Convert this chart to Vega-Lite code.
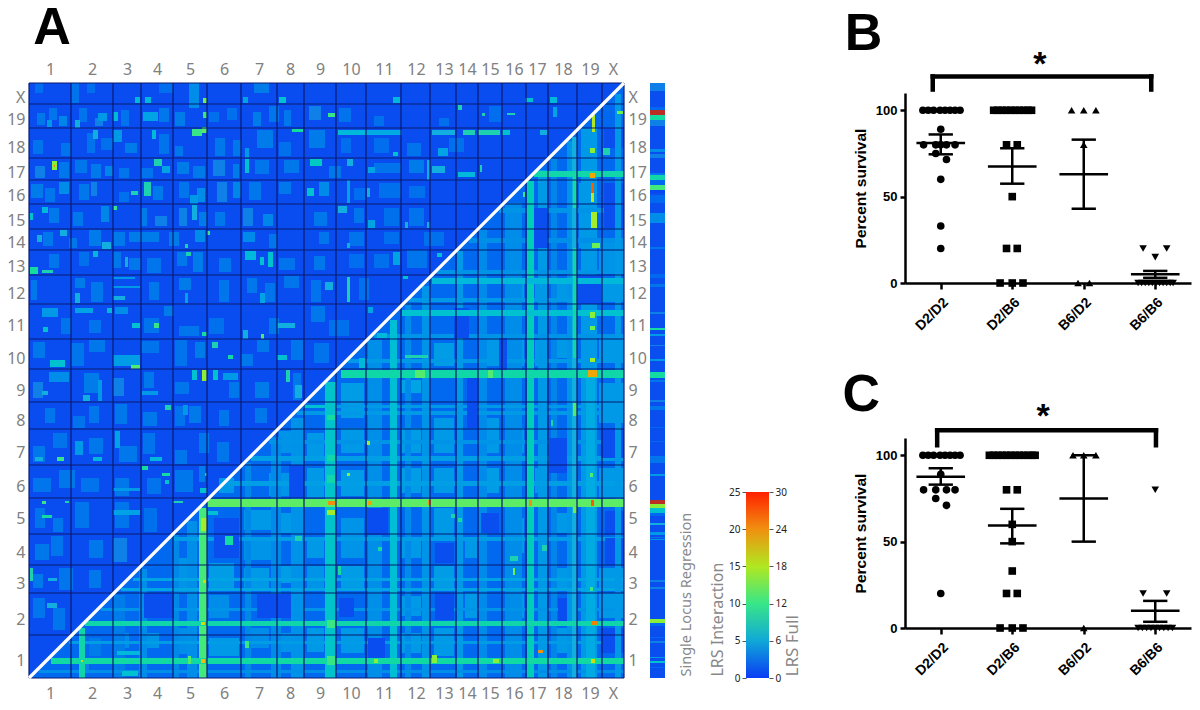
{"$schema":"https://vega.github.io/schema/vega-lite/v6.json","width":1200,"height":710,"padding":0,"autosize":{"type":"none"},"background":"white",
"config":{"axis":{"grid":false},"view":{"stroke":null}},
"datasets":{
"base":[{"x0":0,"x1":595,"y0":0,"y1":595,"v":1.9}],
"tri":[{"x":0,"y":0,"y2":0,"v":3},{"x":595,"y":595,"y2":0,"v":3}],
"diag":[{"x":0,"y":0},{"x":595,"y":595}],
"vl":[{"p":0,"lo":0,"hi":595},{"p":42,"lo":0,"hi":595},{"p":84,"lo":0,"hi":595},{"p":112,"lo":0,"hi":595},{"p":144,"lo":0,"hi":595},{"p":178,"lo":0,"hi":595},{"p":212,"lo":0,"hi":595},{"p":248,"lo":0,"hi":595},{"p":275,"lo":0,"hi":595},{"p":307,"lo":0,"hi":595},{"p":337,"lo":0,"hi":595},{"p":372,"lo":0,"hi":595},{"p":401,"lo":0,"hi":595},{"p":427,"lo":0,"hi":595},{"p":449,"lo":0,"hi":595},{"p":473,"lo":0,"hi":595},{"p":497,"lo":0,"hi":595},{"p":519,"lo":0,"hi":595},{"p":548,"lo":0,"hi":595},{"p":573,"lo":0,"hi":595},{"p":595,"lo":0,"hi":595}],
"hl":[{"p":0,"lo":0,"hi":595},{"p":43,"lo":0,"hi":595},{"p":85,"lo":0,"hi":595},{"p":113,"lo":0,"hi":595},{"p":144,"lo":0,"hi":595},{"p":180,"lo":0,"hi":595},{"p":213,"lo":0,"hi":595},{"p":249,"lo":0,"hi":595},{"p":276,"lo":0,"hi":595},{"p":309,"lo":0,"hi":595},{"p":339,"lo":0,"hi":595},{"p":374,"lo":0,"hi":595},{"p":403,"lo":0,"hi":595},{"p":428,"lo":0,"hi":595},{"p":449,"lo":0,"hi":595},{"p":474,"lo":0,"hi":595},{"p":498,"lo":0,"hi":595},{"p":520,"lo":0,"hi":595},{"p":550,"lo":0,"hi":595},{"p":574,"lo":0,"hi":595},{"p":595,"lo":0,"hi":595}],
"mott":[
{"x0":8,"x1":16,"y0":553,"y1":565,"v":3.6},{"x0":20,"x1":28,"y0":558,"y1":570,"v":3.5},{"x0":30,"x1":38,"y0":552,"y1":562,"v":4.2},{"x0":50,"x1":58,"y0":556,"y1":570,"v":3.4},{"x0":66,"x1":74,"y0":552,"y1":560,"v":4},{"x0":92,"x1":100,"y0":552,"y1":568,"v":3.4},{"x0":130,"x1":140,"y0":556,"y1":570,"v":3.6},{"x0":146,"x1":156,"y0":552,"y1":566,"v":3.8},{"x0":180,"x1":190,"y0":556,"y1":566,"v":3.3},{"x0":198,"x1":208,"y0":558,"y1":570,"v":3.3},{"x0":224,"x1":232,"y0":552,"y1":566,"v":3.8},{"x0":240,"x1":250,"y0":556,"y1":572,"v":3.5},{"x0":255,"x1":262,"y0":552,"y1":568,"v":3.6},{"x0":280,"x1":292,"y0":558,"y1":572,"v":4},{"x0":310,"x1":322,"y0":556,"y1":570,"v":3.4},{"x0":345,"x1":355,"y0":552,"y1":562,"v":3.3},{"x0":410,"x1":420,"y0":552,"y1":560,"v":3.3},{"x0":460,"x1":472,"y0":556,"y1":572,"v":3.2},
{"x0":4,"x1":14,"y0":524,"y1":538,"v":3.4},{"x0":32,"x1":42,"y0":522,"y1":535,"v":3.4},{"x0":58,"x1":66,"y0":525,"y1":545,"v":3.4},{"x0":72,"x1":84,"y0":528,"y1":540,"v":3.3},{"x0":96,"x1":108,"y0":525,"y1":535,"v":3.8},{"x0":130,"x1":140,"y0":524,"y1":544,"v":3.4},{"x0":146,"x1":154,"y0":522,"y1":532,"v":3.6},{"x0":186,"x1":196,"y0":522,"y1":540,"v":3.6},{"x0":204,"x1":212,"y0":522,"y1":538,"v":3.6},{"x0":228,"x1":244,"y0":530,"y1":548,"v":3.8},{"x0":250,"x1":262,"y0":522,"y1":536,"v":3.3},{"x0":280,"x1":296,"y0":530,"y1":548,"v":3.8},{"x0":312,"x1":322,"y0":525,"y1":540,"v":3.2},{"x0":345,"x1":360,"y0":525,"y1":540,"v":3.2},{"x0":378,"x1":392,"y0":522,"y1":535,"v":3.4},{"x0":420,"x1":435,"y0":526,"y1":540,"v":3.3},
{"x0":6,"x1":16,"y0":500,"y1":512,"v":4},{"x0":30,"x1":40,"y0":500,"y1":516,"v":3.6},{"x0":46,"x1":58,"y0":505,"y1":518,"v":3.5},{"x0":62,"x1":72,"y0":500,"y1":514,"v":3.7},{"x0":76,"x1":84,"y0":502,"y1":512,"v":4.2},{"x0":90,"x1":100,"y0":500,"y1":510,"v":3.5},{"x0":112,"x1":124,"y0":500,"y1":510,"v":3.4},{"x0":148,"x1":160,"y0":504,"y1":516,"v":3.8},{"x0":164,"x1":176,"y0":500,"y1":512,"v":3.7},{"x0":184,"x1":196,"y0":502,"y1":518,"v":4},{"x0":204,"x1":210,"y0":500,"y1":514,"v":3.8},{"x0":226,"x1":240,"y0":504,"y1":518,"v":3.5},{"x0":255,"x1":270,"y0":505,"y1":518,"v":3.6},{"x0":300,"x1":312,"y0":500,"y1":512,"v":3.6},{"x0":345,"x1":372,"y0":505,"y1":515,"v":3.4},{"x0":380,"x1":395,"y0":505,"y1":518,"v":3.8},
{"x0":2,"x1":14,"y0":480,"y1":494,"v":3.8},{"x0":16,"x1":26,"y0":476,"y1":490,"v":3.5},{"x0":30,"x1":40,"y0":484,"y1":496,"v":4.5},{"x0":50,"x1":60,"y0":478,"y1":494,"v":3.6},{"x0":62,"x1":68,"y0":482,"y1":496,"v":4},{"x0":90,"x1":100,"y0":476,"y1":486,"v":3.3},{"x0":124,"x1":134,"y0":478,"y1":492,"v":3.7},{"x0":150,"x1":160,"y0":480,"y1":496,"v":3.5},{"x0":168,"x1":176,"y0":476,"y1":490,"v":4.5},{"x0":188,"x1":198,"y0":476,"y1":496,"v":4},{"x0":204,"x1":212,"y0":480,"y1":496,"v":4.2},{"x0":220,"x1":232,"y0":478,"y1":496,"v":3.6},{"x0":250,"x1":262,"y0":484,"y1":496,"v":3.6},{"x0":290,"x1":300,"y0":482,"y1":496,"v":4.4},{"x0":325,"x1":336,"y0":478,"y1":490,"v":3.2},{"x0":350,"x1":372,"y0":480,"y1":495,"v":3.3},{"x0":380,"x1":396,"y0":480,"y1":492,"v":3.3},
{"x0":20,"x1":30,"y0":455,"y1":470,"v":3.7},{"x0":44,"x1":54,"y0":452,"y1":466,"v":3.6},{"x0":72,"x1":80,"y0":456,"y1":472,"v":4.2},{"x0":112,"x1":118,"y0":452,"y1":470,"v":3.8},{"x0":126,"x1":138,"y0":452,"y1":462,"v":4},{"x0":150,"x1":158,"y0":452,"y1":470,"v":4},{"x0":170,"x1":178,"y0":452,"y1":466,"v":3.8},{"x0":186,"x1":196,"y0":452,"y1":466,"v":3.6},{"x0":214,"x1":224,"y0":452,"y1":470,"v":4},{"x0":234,"x1":244,"y0":452,"y1":464,"v":4.2},{"x0":285,"x1":298,"y0":452,"y1":466,"v":3.6},{"x0":325,"x1":335,"y0":455,"y1":470,"v":3.5},{"x0":355,"x1":370,"y0":452,"y1":470,"v":3.3},{"x0":380,"x1":395,"y0":452,"y1":470,"v":3.4},
{"x0":14,"x1":24,"y0":432,"y1":446,"v":3.6},{"x0":40,"x1":48,"y0":430,"y1":440,"v":3.6},{"x0":60,"x1":72,"y0":432,"y1":448,"v":3.8},{"x0":84,"x1":96,"y0":432,"y1":446,"v":3.7},{"x0":100,"x1":130,"y0":436,"y1":446,"v":3.8},{"x0":140,"x1":150,"y0":432,"y1":446,"v":3.8},{"x0":166,"x1":176,"y0":436,"y1":448,"v":4.4},{"x0":214,"x1":226,"y0":436,"y1":446,"v":4.4},{"x0":240,"x1":248,"y0":430,"y1":444,"v":3.5},{"x0":290,"x1":300,"y0":434,"y1":446,"v":3.5},{"x0":320,"x1":335,"y0":432,"y1":446,"v":3.4},{"x0":355,"x1":370,"y0":434,"y1":446,"v":3.2},{"x0":395,"x1":415,"y0":432,"y1":446,"v":3.3},
{"x0":20,"x1":30,"y0":410,"y1":424,"v":3.5},{"x0":50,"x1":60,"y0":412,"y1":426,"v":3.3},{"x0":84,"x1":92,"y0":410,"y1":426,"v":3.6},{"x0":100,"x1":112,"y0":408,"y1":420,"v":3.6},{"x0":118,"x1":132,"y0":405,"y1":420,"v":3.5},{"x0":148,"x1":158,"y0":412,"y1":426,"v":3.6},{"x0":164,"x1":174,"y0":406,"y1":426,"v":3.8},{"x0":190,"x1":202,"y0":406,"y1":420,"v":3.6},{"x0":250,"x1":266,"y0":408,"y1":420,"v":3.4},{"x0":285,"x1":296,"y0":408,"y1":422,"v":3.6},{"x0":320,"x1":335,"y0":410,"y1":424,"v":3.2},{"x0":345,"x1":360,"y0":410,"y1":424,"v":3.3},{"x0":378,"x1":398,"y0":410,"y1":428,"v":3.5},
{"x0":2,"x1":8,"y0":378,"y1":398,"v":3.6},{"x0":46,"x1":56,"y0":390,"y1":400,"v":3.8},{"x0":62,"x1":74,"y0":376,"y1":396,"v":3.6},{"x0":120,"x1":130,"y0":378,"y1":396,"v":3.6},{"x0":150,"x1":162,"y0":388,"y1":400,"v":3.8},{"x0":190,"x1":200,"y0":376,"y1":398,"v":3.5},{"x0":218,"x1":228,"y0":385,"y1":400,"v":3.6},{"x0":236,"x1":246,"y0":376,"y1":395,"v":3.4},{"x0":255,"x1":270,"y0":390,"y1":402,"v":3.5},{"x0":282,"x1":292,"y0":376,"y1":398,"v":3.4},{"x0":330,"x1":340,"y0":378,"y1":400,"v":3.3},
{"x0":32,"x1":42,"y0":344,"y1":360,"v":3.4},{"x0":60,"x1":72,"y0":345,"y1":358,"v":3.4},{"x0":115,"x1":130,"y0":345,"y1":360,"v":3.4},{"x0":135,"x1":145,"y0":362,"y1":372,"v":3.8},{"x0":150,"x1":170,"y0":342,"y1":352,"v":3.5},{"x0":180,"x1":195,"y0":344,"y1":360,"v":3.3},{"x0":240,"x1":250,"y0":344,"y1":360,"v":3.6},{"x0":282,"x1":296,"y0":356,"y1":372,"v":3.6},{"x0":300,"x1":320,"y0":342,"y1":358,"v":3.3},
{"x0":4,"x1":16,"y0":320,"y1":336,"v":3.6},{"x0":42,"x1":55,"y0":312,"y1":335,"v":3.5},{"x0":60,"x1":76,"y0":326,"y1":338,"v":3.6},{"x0":112,"x1":130,"y0":325,"y1":337,"v":3.4},{"x0":146,"x1":158,"y0":312,"y1":338,"v":3.4},{"x0":166,"x1":176,"y0":320,"y1":336,"v":3.8},{"x0":212,"x1":224,"y0":312,"y1":324,"v":3.6},{"x0":228,"x1":240,"y0":326,"y1":338,"v":3.6},{"x0":262,"x1":274,"y0":318,"y1":338,"v":3.5},{"x0":285,"x1":300,"y0":315,"y1":335,"v":3.4},
{"x0":4,"x1":14,"y0":280,"y1":296,"v":4},{"x0":20,"x1":40,"y0":296,"y1":306,"v":4.5},{"x0":55,"x1":70,"y0":285,"y1":305,"v":3.8},{"x0":84,"x1":95,"y0":282,"y1":300,"v":4},{"x0":115,"x1":125,"y0":290,"y1":306,"v":3.6},{"x0":146,"x1":160,"y0":284,"y1":296,"v":3.5},{"x0":200,"x1":210,"y0":280,"y1":296,"v":3.6},{"x0":226,"x1":240,"y0":280,"y1":296,"v":3.8},{"x0":264,"x1":272,"y0":278,"y1":305,"v":3.6},
{"x0":16,"x1":26,"y0":255,"y1":270,"v":3.5},{"x0":44,"x1":56,"y0":250,"y1":262,"v":3.4},{"x0":60,"x1":70,"y0":255,"y1":272,"v":3.5},{"x0":86,"x1":98,"y0":254,"y1":274,"v":3.6},{"x0":114,"x1":128,"y0":252,"y1":266,"v":3.6},{"x0":146,"x1":156,"y0":252,"y1":272,"v":3.4},{"x0":160,"x1":172,"y0":255,"y1":272,"v":3.7},{"x0":190,"x1":200,"y0":252,"y1":268,"v":3.5},{"x0":226,"x1":238,"y0":255,"y1":270,"v":3.6},
{"x0":4,"x1":16,"y0":216,"y1":232,"v":3.6},{"x0":24,"x1":38,"y0":230,"y1":245,"v":3.4},{"x0":60,"x1":74,"y0":224,"y1":240,"v":3.6},{"x0":90,"x1":108,"y0":216,"y1":232,"v":3.6},{"x0":114,"x1":126,"y0":224,"y1":245,"v":3.4},{"x0":146,"x1":158,"y0":214,"y1":228,"v":3.5},{"x0":170,"x1":180,"y0":225,"y1":245,"v":3.6},{"x0":188,"x1":200,"y0":216,"y1":236,"v":3.5},
{"x0":4,"x1":22,"y0":186,"y1":200,"v":3.5},{"x0":30,"x1":46,"y0":190,"y1":208,"v":3.6},{"x0":52,"x1":70,"y0":186,"y1":200,"v":3.4},{"x0":86,"x1":100,"y0":182,"y1":200,"v":3.6},{"x0":118,"x1":132,"y0":184,"y1":200,"v":3.4},{"x0":146,"x1":164,"y0":186,"y1":208,"v":3.6},{"x0":170,"x1":176,"y0":196,"y1":212,"v":3.8},
{"x0":6,"x1":16,"y0":150,"y1":170,"v":3.4},{"x0":24,"x1":34,"y0":146,"y1":160,"v":3.6},{"x0":46,"x1":60,"y0":150,"y1":176,"v":3.5},{"x0":86,"x1":100,"y0":150,"y1":176,"v":3.5},{"x0":115,"x1":128,"y0":146,"y1":170,"v":3.3},{"x0":6,"x1":20,"y0":118,"y1":134,"v":3.6},{"x0":22,"x1":34,"y0":122,"y1":142,"v":3.5},{"x0":60,"x1":74,"y0":120,"y1":138,"v":3.6},{"x0":84,"x1":98,"y0":116,"y1":140,"v":4},{"x0":4,"x1":14,"y0":90,"y1":104,"v":3.7},{"x0":30,"x1":44,"y0":88,"y1":110,"v":3.5},{"x0":60,"x1":72,"y0":90,"y1":108,"v":3.6},{"x0":4,"x1":16,"y0":60,"y1":80,"v":3.5},{"x0":24,"x1":36,"y0":48,"y1":70,"v":3.5},
{"x0":50,"x1":60,"y0":5,"y1":14,"v":4},{"x0":60,"x1":72,"y0":22,"y1":40,"v":3.8},{"x0":84,"x1":100,"y0":30,"y1":45,"v":4.5},{"x0":112,"x1":130,"y0":30,"y1":45,"v":4.8},{"x0":150,"x1":165,"y0":24,"y1":50,"v":4.5},{"x0":180,"x1":200,"y0":60,"y1":83,"v":4.5},{"x0":180,"x1":210,"y0":22,"y1":40,"v":5},{"x0":220,"x1":240,"y0":30,"y1":50,"v":4.5},{"x0":250,"x1":270,"y0":26,"y1":45,"v":4.8},{"x0":278,"x1":295,"y0":26,"y1":50,"v":5},{"x0":120,"x1":140,"y0":60,"y1":85,"v":4.8},{"x0":145,"x1":168,"y0":85,"y1":120,"v":4.8},{"x0":180,"x1":205,"y0":90,"y1":115,"v":5.2},{"x0":215,"x1":240,"y0":90,"y1":110,"v":5},{"x0":250,"x1":270,"y0":95,"y1":112,"v":5.2},{"x0":278,"x1":295,"y0":90,"y1":112,"v":4.8},{"x0":185,"x1":210,"y0":130,"y1":150,"v":4.5},{"x0":215,"x1":245,"y0":118,"y1":140,"v":4.8},{"x0":250,"x1":275,"y0":145,"y1":165,"v":5},{"x0":278,"x1":295,"y0":120,"y1":140,"v":5},{"x0":215,"x1":245,"y0":148,"y1":168,"v":5},{"x0":190,"x1":205,"y0":185,"y1":200,"v":5},{"x0":240,"x1":270,"y0":182,"y1":205,"v":4.8},{"x0":278,"x1":295,"y0":180,"y1":210,"v":5},{"x0":250,"x1":270,"y0":225,"y1":247,"v":4.8},{"x0":278,"x1":295,"y0":220,"y1":245,"v":5},{"x0":312,"x1":335,"y0":25,"y1":50,"v":5},{"x0":312,"x1":335,"y0":88,"y1":112,"v":5.2},{"x0":312,"x1":335,"y0":120,"y1":160,"v":4.8},{"x0":312,"x1":335,"y0":182,"y1":208,"v":5.2},{"x0":312,"x1":335,"y0":225,"y1":250,"v":5},{"x0":312,"x1":335,"y0":260,"y1":295,"v":5.2},{"x0":372,"x1":392,"y0":25,"y1":45,"v":5},{"x0":372,"x1":392,"y0":62,"y1":82,"v":5},{"x0":372,"x1":392,"y0":120,"y1":140,"v":5},{"x0":372,"x1":392,"y0":185,"y1":210,"v":5.2},{"x0":372,"x1":392,"y0":225,"y1":250,"v":5.2},{"x0":372,"x1":392,"y0":285,"y1":298,"v":5.5},{"x0":405,"x1":425,"y0":22,"y1":50,"v":5},{"x0":405,"x1":425,"y0":90,"y1":112,"v":5.2},{"x0":405,"x1":425,"y0":140,"y1":170,"v":5},{"x0":405,"x1":425,"y0":185,"y1":210,"v":5},{"x0":405,"x1":425,"y0":225,"y1":260,"v":5},{"x0":405,"x1":425,"y0":312,"y1":335,"v":5.2},{"x0":436,"x1":448,"y0":60,"y1":85,"v":5},{"x0":436,"x1":448,"y0":120,"y1":140,"v":5},{"x0":452,"x1":470,"y0":185,"y1":210,"v":5.2},{"x0":452,"x1":470,"y0":225,"y1":260,"v":5},{"x0":452,"x1":470,"y0":312,"y1":340,"v":5},{"x0":476,"x1":495,"y0":60,"y1":85,"v":5.2},{"x0":476,"x1":495,"y0":125,"y1":160,"v":5.2},{"x0":476,"x1":495,"y0":225,"y1":250,"v":5.2},{"x0":476,"x1":495,"y0":312,"y1":340,"v":5.2},{"x0":476,"x1":495,"y0":380,"y1":400,"v":5.3},{"x0":506,"x1":518,"y0":185,"y1":210,"v":5},{"x0":506,"x1":518,"y0":312,"y1":338,"v":5.2},{"x0":506,"x1":518,"y0":380,"y1":400,"v":5},{"x0":506,"x1":518,"y0":430,"y1":470,"v":5},{"x0":522,"x1":538,"y0":25,"y1":50,"v":5},{"x0":522,"x1":538,"y0":90,"y1":110,"v":5},{"x0":522,"x1":538,"y0":145,"y1":165,"v":5},{"x0":522,"x1":538,"y0":320,"y1":340,"v":5},{"x0":522,"x1":538,"y0":380,"y1":400,"v":5},{"x0":570,"x1":595,"y0":60,"y1":85,"v":5},{"x0":570,"x1":595,"y0":90,"y1":110,"v":5},{"x0":570,"x1":595,"y0":180,"y1":210,"v":5},{"x0":570,"x1":595,"y0":255,"y1":295,"v":5},{"x0":570,"x1":595,"y0":315,"y1":340,"v":5},{"x0":570,"x1":595,"y0":380,"y1":400,"v":5},{"x0":570,"x1":595,"y0":405,"y1":440,"v":4.8},{"x0":550,"x1":560,"y0":430,"y1":495,"v":5},{"x0":550,"x1":560,"y0":380,"y1":400,"v":5}
],
"cells":[
{"x0":339,"x1":353,"y0":0,"y1":338,"v":4.6},{"x0":376,"x1":382,"y0":0,"y1":375,"v":4.4},{"x0":393,"x1":401,"y0":0,"y1":392,"v":4.8},{"x0":428,"x1":434,"y0":0,"y1":427,"v":5},{"x0":450,"x1":458,"y0":0,"y1":449,"v":4.4},{"x0":476,"x1":493,"y0":0,"y1":475,"v":4.5},{"x0":509,"x1":518,"y0":0,"y1":508,"v":5},{"x0":522,"x1":528,"y0":0,"y1":520,"v":4.2},{"x0":538,"x1":544,"y0":0,"y1":537,"v":4.8},{"x0":552,"x1":568,"y0":0,"y1":550,"v":5},
{"x0":110,"x1":118,"y0":0,"y1":109,"v":4.5},{"x0":144,"x1":150,"y0":0,"y1":143,"v":4.3},{"x0":158,"x1":168,"y0":0,"y1":157,"v":4.6},{"x0":216,"x1":222,"y0":0,"y1":215,"v":4.3},{"x0":242,"x1":252,"y0":0,"y1":241,"v":4.4},{"x0":262,"x1":275,"y0":0,"y1":260,"v":4.7},{"x0":84,"x1":96,"y0":0,"y1":83,"v":3.8},
{"x0":268,"x1":595,"y0":263,"y1":267,"v":5},{"x0":240,"x1":595,"y0":234,"y1":238,"v":4.8},{"x0":222,"x1":595,"y0":217,"y1":222,"v":5.3},{"x0":198,"x1":595,"y0":192,"y1":197,"v":5.3},{"x0":145,"x1":595,"y0":137,"y1":141,"v":5.2},{"x0":104,"x1":595,"y0":97,"y1":100,"v":5.5},{"x0":92,"x1":595,"y0":87,"y1":90,"v":5.6},{"x0":72,"x1":595,"y0":67,"y1":70,"v":4.8},{"x0":40,"x1":595,"y0":34,"y1":37,"v":5.2},{"x0":10,"x1":595,"y0":5,"y1":8,"v":4.6},{"x0":275,"x1":595,"y0":270,"y1":273,"v":5},{"x0":319,"x1":595,"y0":315,"y1":319,"v":5},{"x0":345,"x1":595,"y0":340,"y1":344,"v":4.8},{"x0":380,"x1":595,"y0":376,"y1":380,"v":5},{"x0":408,"x1":595,"y0":404,"y1":408,"v":4.8},{"x0":440,"x1":595,"y0":435,"y1":440,"v":4.6},{"x0":470,"x1":595,"y0":465,"y1":470,"v":4.8},
{"x0":338,"x1":359,"y0":143,"y1":170,"v":1.9},{"x0":438,"x1":448,"y0":250,"y1":300,"v":1.9},{"x0":339,"x1":356,"y0":20,"y1":40,"v":1.9},{"x0":529,"x1":538,"y0":57,"y1":80,"v":1.9},{"x0":576,"x1":595,"y0":143,"y1":167,"v":2},{"x0":576,"x1":595,"y0":113,"y1":140,"v":2},{"x0":310,"x1":325,"y0":61,"y1":80,"v":2},{"x0":406,"x1":425,"y0":115,"y1":135,"v":2},{"x0":452,"x1":470,"y0":145,"y1":165,"v":2},{"x0":520,"x1":538,"y0":205,"y1":240,"v":2},{"x0":572,"x1":595,"y0":220,"y1":250,"v":2},{"x0":572,"x1":595,"y0":25,"y1":50,"v":2},{"x0":406,"x1":425,"y0":58,"y1":85,"v":2},{"x0":228,"x1":262,"y0":60,"y1":84,"v":2},{"x0":115,"x1":145,"y0":60,"y1":85,"v":2},{"x0":185,"x1":210,"y0":120,"y1":160,"v":2},{"x0":260,"x1":275,"y0":180,"y1":213,"v":2},{"x0":470,"x1":478,"y0":305,"y1":340,"v":2},{"x0":425,"x1":440,"y0":340,"y1":370,"v":2},{"x0":545,"x1":572,"y0":374,"y1":403,"v":2},{"x0":505,"x1":518,"y0":430,"y1":470,"v":2},{"x0":575,"x1":595,"y0":450,"y1":495,"v":2},{"x0":575,"x1":595,"y0":530,"y1":550,"v":2},
{"x0":361,"x1":368,"y0":0,"y1":358,"v":6.8},{"x0":296,"x1":307,"y0":0,"y1":296,"v":7.2},{"x0":498,"x1":505,"y0":0,"y1":497,"v":7.8},{"x0":543,"x1":548,"y0":0,"y1":541,"v":6},{"x0":586,"x1":592,"y0":0,"y1":584,"v":5},{"x0":557,"x1":566,"y0":0,"y1":300,"v":5.8},
{"x0":373,"x1":595,"y0":362,"y1":368,"v":7},{"x0":403,"x1":595,"y0":394,"y1":400,"v":6.5},{"x0":505,"x1":595,"y0":501,"y1":507,"v":8.5},{"x0":312,"x1":595,"y0":300,"y1":308,"v":8.6},
{"x0":170,"x1":178,"y0":0,"y1":170,"v":10.5},{"x0":50,"x1":56,"y0":0,"y1":50,"v":8.4},{"x0":178,"x1":595,"y0":171,"y1":179,"v":11.4},{"x0":56,"x1":595,"y0":52,"y1":57,"v":8.4},{"x0":22,"x1":595,"y0":14,"y1":20,"v":8.8},
{"x0":544,"x1":548,"y0":262,"y1":275,"v":11},{"x0":544,"x1":548,"y0":165,"y1":171,"v":12},{"x0":544,"x1":548,"y0":320,"y1":430,"v":8.6},{"x0":544,"x1":548,"y0":470,"y1":505,"v":9},
{"x0":563,"x1":566,"y0":546,"y1":563,"v":14.5},{"x0":561,"x1":566,"y0":525,"y1":530,"v":13},{"x0":574,"x1":581,"y0":523,"y1":530,"v":8},{"x0":588,"x1":594,"y0":564,"y1":567,"v":12},{"x0":561,"x1":566,"y0":500,"y1":505,"v":19},{"x0":562,"x1":565,"y0":485,"y1":495,"v":23},{"x0":562,"x1":565,"y0":476,"y1":485,"v":15},{"x0":562,"x1":568,"y0":450,"y1":466,"v":14},{"x0":563,"x1":571,"y0":430,"y1":435,"v":12},{"x0":559,"x1":568,"y0":301,"y1":308,"v":19},{"x0":561,"x1":566,"y0":316,"y1":320,"v":14},{"x0":561,"x1":566,"y0":348,"y1":352,"v":12},{"x0":561,"x1":566,"y0":360,"y1":366,"v":13},
{"x0":386,"x1":396,"y0":300,"y1":308,"v":11},{"x0":459,"x1":464,"y0":300,"y1":308,"v":11},{"x0":376,"x1":399,"y0":320,"y1":323,"v":8},{"x0":348,"x1":358,"y0":340,"y1":345,"v":6.5},{"x0":330,"x1":336,"y0":310,"y1":320,"v":6.5},
{"x0":299,"x1":306,"y0":173,"y1":177,"v":20},{"x0":339,"x1":343,"y0":173,"y1":177,"v":19},{"x0":399,"x1":402,"y0":173,"y1":178,"v":20},{"x0":500,"x1":503,"y0":172,"y1":178,"v":20},{"x0":562,"x1":565,"y0":172,"y1":178,"v":23},{"x0":298,"x1":306,"y0":163,"y1":168,"v":14},{"x0":562,"x1":568,"y0":53,"y1":57,"v":21},{"x0":403,"x1":408,"y0":15,"y1":23,"v":13},{"x0":509,"x1":514,"y0":25,"y1":28,"v":20},{"x0":345,"x1":349,"y0":15,"y1":19,"v":13},{"x0":464,"x1":470,"y0":15,"y1":19,"v":13},{"x0":562,"x1":566,"y0":15,"y1":19,"v":16},{"x0":338,"x1":341,"y0":233,"y1":237,"v":14},{"x0":318,"x1":321,"y0":202,"y1":205,"v":13},{"x0":429,"x1":433,"y0":156,"y1":160,"v":9},{"x0":422,"x1":426,"y0":160,"y1":164,"v":8},{"x0":484,"x1":486,"y0":103,"y1":110,"v":12},{"x0":481,"x1":489,"y0":117,"y1":122,"v":8},{"x0":561,"x1":564,"y0":201,"y1":205,"v":11},{"x0":561,"x1":564,"y0":87,"y1":91,"v":10},{"x0":522,"x1":524,"y0":252,"y1":258,"v":9},{"x0":309,"x1":312,"y0":103,"y1":112,"v":9},{"x0":349,"x1":353,"y0":127,"y1":131,"v":9},{"x0":513,"x1":518,"y0":127,"y1":133,"v":8},{"x0":298,"x1":306,"y0":258,"y1":263,"v":9},{"x0":298,"x1":306,"y0":217,"y1":223,"v":8.5},{"x0":298,"x1":306,"y0":195,"y1":203,"v":8.5},{"x0":298,"x1":306,"y0":50,"y1":58,"v":10},{"x0":298,"x1":306,"y0":13,"y1":22,"v":10},
{"x0":196,"x1":204,"y0":133,"y1":142,"v":9},{"x0":266,"x1":273,"y0":137,"y1":142,"v":8},{"x0":216,"x1":220,"y0":30,"y1":37,"v":10},{"x0":179,"x1":189,"y0":163,"y1":167,"v":7},{"x0":274,"x1":296,"y0":270,"y1":273,"v":7},{"x0":93,"x1":109,"y0":2,"y1":7,"v":7},{"x0":88,"x1":111,"y0":23,"y1":27,"v":6.5},{"x0":159,"x1":162,"y0":14,"y1":22,"v":11},{"x0":52,"x1":54,"y0":16,"y1":18,"v":17},{"x0":172,"x1":176,"y0":15,"y1":19,"v":18},{"x0":172,"x1":176,"y0":53,"y1":56,"v":16},{"x0":174,"x1":177,"y0":95,"y1":98,"v":16},{"x0":172,"x1":178,"y0":147,"y1":160,"v":14},
{"x0":23,"x1":28,"y0":508,"y1":517,"v":13},{"x0":25,"x1":26,"y0":511,"y1":513,"v":21},{"x0":125,"x1":133,"y0":512,"y1":519,"v":8},{"x0":133,"x1":141,"y0":505,"y1":512,"v":5.5},{"x0":281,"x1":293,"y0":512,"y1":519,"v":7.5},{"x0":163,"x1":173,"y0":542,"y1":549,"v":10},{"x0":173,"x1":178,"y0":545,"y1":551,"v":11},{"x0":174,"x1":178,"y0":575,"y1":580,"v":12},{"x0":174,"x1":178,"y0":560,"y1":566,"v":10},{"x0":116,"x1":122,"y0":575,"y1":581,"v":6.5},{"x0":106,"x1":111,"y0":575,"y1":581,"v":6.5},{"x0":250,"x1":257,"y0":575,"y1":581,"v":7},{"x0":214,"x1":219,"y0":575,"y1":581,"v":5.5},{"x0":64,"x1":69,"y0":539,"y1":548,"v":6},{"x0":84,"x1":93,"y0":536,"y1":548,"v":5},{"x0":263,"x1":274,"y0":546,"y1":549,"v":9},{"x0":123,"x1":127,"y0":539,"y1":548,"v":6.5},{"x0":115,"x1":122,"y0":482,"y1":496,"v":8},{"x0":102,"x1":109,"y0":483,"y1":487,"v":8},{"x0":278,"x1":285,"y0":482,"y1":490,"v":7},{"x0":1,"x1":9,"y0":404,"y1":411,"v":9},{"x0":13,"x1":24,"y0":405,"y1":408,"v":8},{"x0":216,"x1":227,"y0":418,"y1":427,"v":6.5},{"x0":231,"x1":235,"y0":413,"y1":421,"v":7},{"x0":239,"x1":244,"y0":411,"y1":426,"v":7},{"x0":216,"x1":220,"y0":505,"y1":519,"v":7},{"x0":216,"x1":220,"y0":520,"y1":530,"v":5},{"x0":84,"x1":88,"y0":468,"y1":472,"v":10},{"x0":13,"x1":19,"y0":465,"y1":471,"v":6.5},{"x0":1,"x1":4,"y0":458,"y1":465,"v":7},{"x0":163,"x1":168,"y0":458,"y1":473,"v":6},{"x0":161,"x1":169,"y0":474,"y1":483,"v":5},{"x0":156,"x1":159,"y0":430,"y1":434,"v":8},{"x0":157,"x1":162,"y0":422,"y1":426,"v":8},{"x0":178,"x1":181,"y0":443,"y1":447,"v":10},{"x0":73,"x1":82,"y0":429,"y1":436,"v":6},{"x0":64,"x1":69,"y0":421,"y1":427,"v":6.5},{"x0":96,"x1":99,"y0":411,"y1":421,"v":6},{"x0":8,"x1":13,"y0":436,"y1":443,"v":6},{"x0":31,"x1":38,"y0":442,"y1":448,"v":6},{"x0":84,"x1":106,"y0":399,"y1":401,"v":5},{"x0":84,"x1":111,"y0":390,"y1":392,"v":5},{"x0":84,"x1":96,"y0":378,"y1":382,"v":6},{"x0":46,"x1":51,"y0":375,"y1":385,"v":6},{"x0":156,"x1":159,"y0":375,"y1":385,"v":5.5},{"x0":231,"x1":236,"y0":375,"y1":385,"v":5.5},{"x0":103,"x1":111,"y0":350,"y1":355,"v":7},{"x0":125,"x1":130,"y0":350,"y1":355,"v":10},{"x0":232,"x1":235,"y0":339,"y1":344,"v":11},{"x0":14,"x1":19,"y0":346,"y1":351,"v":7},{"x0":13,"x1":29,"y0":361,"y1":370,"v":5},{"x0":46,"x1":64,"y0":365,"y1":370,"v":5.5},{"x0":78,"x1":83,"y0":365,"y1":370,"v":6.5},{"x0":86,"x1":99,"y0":364,"y1":371,"v":4.5},{"x0":84,"x1":111,"y0":312,"y1":323,"v":5.2},{"x0":21,"x1":36,"y0":311,"y1":318,"v":7},{"x0":102,"x1":111,"y0":309,"y1":313,"v":11},{"x0":199,"x1":204,"y0":319,"y1":323,"v":9},{"x0":183,"x1":189,"y0":330,"y1":336,"v":8},{"x0":163,"x1":168,"y0":298,"y1":308,"v":7},{"x0":173,"x1":178,"y0":297,"y1":308,"v":13},{"x0":184,"x1":189,"y0":298,"y1":308,"v":7},{"x0":194,"x1":209,"y0":298,"y1":305,"v":5},{"x0":257,"x1":261,"y0":296,"y1":308,"v":8},{"x0":248,"x1":258,"y0":318,"y1":323,"v":7},{"x0":248,"x1":266,"y0":350,"y1":355,"v":6},{"x0":214,"x1":219,"y0":339,"y1":348,"v":6},{"x0":173,"x1":178,"y0":342,"y1":346,"v":9},{"x0":46,"x1":51,"y0":550,"y1":558,"v":6},{"x0":18,"x1":23,"y0":551,"y1":558,"v":5},{"x0":114,"x1":129,"y0":557,"y1":566,"v":5.5},{"x0":84,"x1":89,"y0":557,"y1":566,"v":6.5},{"x0":69,"x1":78,"y0":557,"y1":565,"v":5},
{"x0":6,"x1":14,"y0":585,"y1":595,"v":3.2},{"x0":42,"x1":50,"y0":575,"y1":595,"v":3.4},{"x0":58,"x1":66,"y0":585,"y1":595,"v":3.2},{"x0":130,"x1":144,"y0":585,"y1":595,"v":3.2},{"x0":160,"x1":170,"y0":570,"y1":595,"v":4.5},{"x0":225,"x1":240,"y0":585,"y1":595,"v":3.8},
{"x0":18,"x1":28,"y0":70,"y1":75,"v":6},{"x0":1,"x1":4,"y0":97,"y1":110,"v":8},{"x0":19,"x1":28,"y0":97,"y1":100,"v":6},{"x0":13,"x1":23,"y0":160,"y1":163,"v":9},{"x0":13,"x1":17,"y0":174,"y1":177,"v":10},{"x0":36,"x1":40,"y0":175,"y1":177,"v":8},{"x0":144,"x1":154,"y0":175,"y1":177,"v":8},{"x0":84,"x1":111,"y0":163,"y1":168,"v":5.4},{"x0":84,"x1":111,"y0":187,"y1":190,"v":5},{"x0":28,"x1":35,"y0":217,"y1":221,"v":10},{"x0":64,"x1":73,"y0":217,"y1":221,"v":6.5},{"x0":121,"x1":133,"y0":217,"y1":221,"v":6.5},{"x0":6,"x1":14,"y0":217,"y1":221,"v":6},{"x0":133,"x1":141,"y0":202,"y1":205,"v":9},{"x0":113,"x1":119,"y0":208,"y1":212,"v":9},{"x0":136,"x1":140,"y0":194,"y1":198,"v":7},{"x0":86,"x1":91,"y0":230,"y1":247,"v":5.5},{"x0":46,"x1":54,"y0":223,"y1":237,"v":5},{"x0":13,"x1":19,"y0":283,"y1":287,"v":6},{"x0":54,"x1":61,"y0":277,"y1":283,"v":6},{"x0":69,"x1":73,"y0":277,"y1":298,"v":5},{"x0":136,"x1":142,"y0":268,"y1":273,"v":8},{"x0":154,"x1":159,"y0":263,"y1":273,"v":5},{"x0":113,"x1":129,"y0":283,"y1":287,"v":5},{"x0":266,"x1":273,"y0":280,"y1":293,"v":6},{"x0":176,"x1":178,"y0":202,"y1":205,"v":8},{"x0":171,"x1":178,"y0":185,"y1":190,"v":7},
{"x0":364,"x1":371,"y0":575,"y1":581,"v":6.5},{"x0":299,"x1":306,"y0":561,"y1":565,"v":10},{"x0":429,"x1":433,"y0":568,"y1":573,"v":8},{"x0":453,"x1":456,"y0":562,"y1":565,"v":8},{"x0":478,"x1":486,"y0":563,"y1":565,"v":8},{"x0":496,"x1":504,"y0":576,"y1":580,"v":7},{"x0":521,"x1":528,"y0":575,"y1":581,"v":6.5},{"x0":524,"x1":528,"y0":561,"y1":571,"v":5.5},{"x0":309,"x1":336,"y0":543,"y1":548,"v":6.5},{"x0":336,"x1":373,"y0":543,"y1":548,"v":5.8},{"x0":403,"x1":426,"y0":543,"y1":548,"v":6},{"x0":434,"x1":446,"y0":543,"y1":548,"v":8},{"x0":449,"x1":471,"y0":543,"y1":548,"v":8},{"x0":473,"x1":481,"y0":543,"y1":548,"v":7},{"x0":511,"x1":518,"y0":543,"y1":548,"v":6},{"x0":364,"x1":369,"y0":522,"y1":526,"v":7},{"x0":409,"x1":419,"y0":522,"y1":530,"v":5.5},{"x0":318,"x1":324,"y0":512,"y1":519,"v":6},{"x0":339,"x1":346,"y0":505,"y1":511,"v":5.5},{"x0":403,"x1":416,"y0":505,"y1":512,"v":6},{"x0":398,"x1":401,"y0":498,"y1":518,"v":6},{"x0":429,"x1":446,"y0":501,"y1":506,"v":6.5},{"x0":451,"x1":453,"y0":506,"y1":513,"v":8},{"x0":494,"x1":496,"y0":481,"y1":486,"v":10},{"x0":318,"x1":321,"y0":475,"y1":498,"v":5.5},{"x0":338,"x1":341,"y0":481,"y1":490,"v":6},{"x0":309,"x1":318,"y0":465,"y1":472,"v":6},{"x0":339,"x1":346,"y0":450,"y1":458,"v":5.5},{"x0":376,"x1":379,"y0":450,"y1":456,"v":6},{"x0":398,"x1":401,"y0":450,"y1":456,"v":6},{"x0":318,"x1":321,"y0":430,"y1":435,"v":6},{"x0":364,"x1":371,"y0":413,"y1":426,"v":5.5},{"x0":408,"x1":413,"y0":421,"y1":425,"v":7},{"x0":318,"x1":321,"y0":376,"y1":401,"v":8},{"x0":296,"x1":304,"y0":388,"y1":396,"v":6},{"x0":374,"x1":379,"y0":399,"y1":402,"v":7},{"x0":339,"x1":344,"y0":365,"y1":371,"v":5.5}
],
"strip":[{"y0":0,"y1":595,"v":2},{"y0":587,"y1":595,"v":4},{"y0":568,"y1":571,"v":3},{"y0":563,"y1":568,"v":29},{"y0":558,"y1":563,"v":9},{"y0":552,"y1":558,"v":4},{"y0":526,"y1":529,"v":4.5},{"y0":520,"y1":524,"v":4},{"y0":503,"y1":505,"v":3.5},{"y0":498,"y1":503,"v":8.5},{"y0":493,"y1":498,"v":3},{"y0":488,"y1":493,"v":10.5},{"y0":485,"y1":488,"v":1.2},{"y0":475,"y1":483,"v":3},{"y0":455,"y1":465,"v":4.5},{"y0":429,"y1":431,"v":3.5},{"y0":400,"y1":404,"v":3},{"y0":391,"y1":394,"v":3.5},{"y0":364,"y1":366,"v":4},{"y0":348,"y1":350,"v":9},{"y0":342,"y1":344,"v":5},{"y0":332,"y1":333,"v":4},{"y0":317,"y1":319,"v":5},{"y0":300,"y1":306,"v":9},{"y0":296,"y1":298,"v":3.5},{"y0":276,"y1":278,"v":4},{"y0":268,"y1":272,"v":3.5},{"y0":250,"y1":251,"v":3},{"y0":236,"y1":237,"v":3},{"y0":215,"y1":222,"v":3.5},{"y0":202,"y1":204,"v":5},{"y0":174,"y1":178,"v":29},{"y0":170,"y1":174,"v":13},{"y0":165,"y1":170,"v":7},{"y0":162,"y1":165,"v":3},{"y0":153,"y1":155,"v":6},{"y0":143,"y1":146,"v":5},{"y0":140,"y1":141,"v":3.5},{"y0":138,"y1":139,"v":5},{"y0":96,"y1":98,"v":4},{"y0":89,"y1":91,"v":4},{"y0":55,"y1":59,"v":13},{"y0":52,"y1":55,"v":3},{"y0":40,"y1":41,"v":3},{"y0":35,"y1":37,"v":4},{"y0":20,"y1":21,"v":5},{"y0":15,"y1":17,"v":7},{"y0":10,"y1":11,"v":3}],
"cbarRect":[{"x0":0,"x1":1,"y0":0,"y1":25}],
"cbarText":[{"x":-2.56,"y":0.2,"t":"Single Locus Regression","s":14.5},{"x":-1.22,"y":0.2,"t":"LRS Interaction","s":16},{"x":2.04,"y":0.2,"t":"LRS Full","s":17}],
"ptsB":[{"g":"D2/D2","x":0.75,"y":100},{"g":"D2/D2","x":0.825,"y":100},{"g":"D2/D2","x":0.9,"y":100},{"g":"D2/D2","x":0.99,"y":100},{"g":"D2/D2","x":1.06,"y":100},{"g":"D2/D2","x":1.13,"y":100},{"g":"D2/D2","x":1.2,"y":100},{"g":"D2/D2","x":1.27,"y":100},{"g":"D2/D2","x":1,"y":89},{"g":"D2/D2","x":0.76,"y":80},{"g":"D2/D2","x":0.93,"y":80},{"g":"D2/D2","x":1,"y":80},{"g":"D2/D2","x":1.08,"y":80},{"g":"D2/D2","x":1.2,"y":80},{"g":"D2/D2","x":0.93,"y":75},{"g":"D2/D2","x":1.08,"y":71.5},{"g":"D2/D2","x":1,"y":60},{"g":"D2/D2","x":1,"y":33},{"g":"D2/D2","x":1,"y":20},
{"g":"D2/B6","x":1.74,"y":100},{"g":"D2/B6","x":1.8,"y":100},{"g":"D2/B6","x":1.86,"y":100},{"g":"D2/B6","x":1.92,"y":100},{"g":"D2/B6","x":1.98,"y":100},{"g":"D2/B6","x":2.04,"y":100},{"g":"D2/B6","x":2.1,"y":100},{"g":"D2/B6","x":2.16,"y":100},{"g":"D2/B6","x":2.22,"y":100},{"g":"D2/B6","x":2.27,"y":100},{"g":"D2/B6","x":1.92,"y":80},{"g":"D2/B6","x":2.07,"y":80},{"g":"D2/B6","x":2,"y":50},{"g":"D2/B6","x":1.92,"y":20},{"g":"D2/B6","x":2.07,"y":20},{"g":"D2/B6","x":1.83,"y":0},{"g":"D2/B6","x":2,"y":0},{"g":"D2/B6","x":2.15,"y":0},
{"g":"B6/D2","x":2.83,"y":100},{"g":"B6/D2","x":3,"y":100},{"g":"B6/D2","x":3.17,"y":100},{"g":"B6/D2","x":3,"y":80},{"g":"B6/D2","x":2.92,"y":0},{"g":"B6/D2","x":3.08,"y":0},
{"g":"B6/B6","x":3.83,"y":20},{"g":"B6/B6","x":4.16,"y":20},{"g":"B6/B6","x":4,"y":15},{"g":"B6/B6","x":3.76,"y":0},{"g":"B6/B6","x":3.81,"y":0},{"g":"B6/B6","x":3.86,"y":0},{"g":"B6/B6","x":3.91,"y":0},{"g":"B6/B6","x":3.96,"y":0},{"g":"B6/B6","x":4.01,"y":0},{"g":"B6/B6","x":4.06,"y":0},{"g":"B6/B6","x":4.11,"y":0},{"g":"B6/B6","x":4.16,"y":0},{"g":"B6/B6","x":4.21,"y":0},{"g":"B6/B6","x":4.25,"y":0}],
"segB":[{"x":0.66,"x2":1.34,"y":81,"y2":81},{"x":0.83,"x2":1.17,"y":86,"y2":86},{"x":0.83,"x2":1.17,"y":74.5,"y2":74.5},{"x":1,"x2":1,"y":74.5,"y2":86},{"x":1.66,"x2":2.34,"y":67.5,"y2":67.5},{"x":1.83,"x2":2.17,"y":78,"y2":78},{"x":1.83,"x2":2.17,"y":57.5,"y2":57.5},{"x":2,"x2":2,"y":57.5,"y2":78},{"x":2.66,"x2":3.34,"y":63,"y2":63},{"x":2.83,"x2":3.17,"y":83,"y2":83},{"x":2.83,"x2":3.17,"y":43,"y2":43},{"x":3,"x2":3,"y":43,"y2":83},{"x":3.66,"x2":4.34,"y":5,"y2":5},{"x":3.83,"x2":4.17,"y":7,"y2":7},{"x":3.83,"x2":4.17,"y":3,"y2":3},{"x":4,"x2":4,"y":3,"y2":7}],
"brB":[{"x":0.888,"x2":3.944,"y":119.6,"y2":119.6},{"x":0.888,"x2":0.888,"y":112,"y2":119.6},{"x":3.944,"x2":3.944,"y":112,"y2":119.6}],
"txtB":[{"x":2.385,"y":126.5,"t":"*","s":34},{"x":-0.08,"y":144,"t":"B","s":52}],
"ptsC":[{"g":"D2/D2","x":0.75,"y":100},{"g":"D2/D2","x":0.825,"y":100},{"g":"D2/D2","x":0.9,"y":100},{"g":"D2/D2","x":0.99,"y":100},{"g":"D2/D2","x":1.06,"y":100},{"g":"D2/D2","x":1.13,"y":100},{"g":"D2/D2","x":1.2,"y":100},{"g":"D2/D2","x":1.27,"y":100},{"g":"D2/D2","x":1,"y":89},{"g":"D2/D2","x":0.76,"y":80},{"g":"D2/D2","x":0.93,"y":80},{"g":"D2/D2","x":1.08,"y":80},{"g":"D2/D2","x":1.2,"y":80},{"g":"D2/D2","x":0.93,"y":75},{"g":"D2/D2","x":1.08,"y":71},{"g":"D2/D2","x":1,"y":20},
{"g":"D2/B6","x":1.68,"y":100},{"g":"D2/B6","x":1.74,"y":100},{"g":"D2/B6","x":1.8,"y":100},{"g":"D2/B6","x":1.86,"y":100},{"g":"D2/B6","x":1.92,"y":100},{"g":"D2/B6","x":1.98,"y":100},{"g":"D2/B6","x":2.04,"y":100},{"g":"D2/B6","x":2.1,"y":100},{"g":"D2/B6","x":2.16,"y":100},{"g":"D2/B6","x":2.22,"y":100},{"g":"D2/B6","x":2.28,"y":100},{"g":"D2/B6","x":2.32,"y":100},{"g":"D2/B6","x":1.92,"y":80},{"g":"D2/B6","x":2.07,"y":80},{"g":"D2/B6","x":2,"y":60},{"g":"D2/B6","x":2,"y":50},{"g":"D2/B6","x":2,"y":33},{"g":"D2/B6","x":1.92,"y":20},{"g":"D2/B6","x":2.07,"y":20},{"g":"D2/B6","x":1.83,"y":0},{"g":"D2/B6","x":2,"y":0},{"g":"D2/B6","x":2.15,"y":0},
{"g":"B6/D2","x":2.85,"y":100},{"g":"B6/D2","x":3,"y":100},{"g":"B6/D2","x":3.17,"y":100},{"g":"B6/D2","x":3,"y":0},
{"g":"B6/B6","x":4,"y":80},{"g":"B6/B6","x":3.83,"y":20},{"g":"B6/B6","x":4.16,"y":20},{"g":"B6/B6","x":3.76,"y":0},{"g":"B6/B6","x":3.82,"y":0},{"g":"B6/B6","x":3.88,"y":0},{"g":"B6/B6","x":3.94,"y":0},{"g":"B6/B6","x":4,"y":0},{"g":"B6/B6","x":4.06,"y":0},{"g":"B6/B6","x":4.12,"y":0},{"g":"B6/B6","x":4.18,"y":0},{"g":"B6/B6","x":4.24,"y":0}],
"segC":[{"x":0.66,"x2":1.34,"y":87.5,"y2":87.5},{"x":0.83,"x2":1.17,"y":92.5,"y2":92.5},{"x":0.83,"x2":1.17,"y":83,"y2":83},{"x":1,"x2":1,"y":83,"y2":92.5},{"x":1.66,"x2":2.34,"y":59.3,"y2":59.3},{"x":1.83,"x2":2.17,"y":69,"y2":69},{"x":1.83,"x2":2.17,"y":49,"y2":49},{"x":2,"x2":2,"y":49,"y2":69},{"x":2.66,"x2":3.34,"y":75,"y2":75},{"x":2.83,"x2":3.17,"y":100,"y2":100},{"x":2.83,"x2":3.17,"y":50,"y2":50},{"x":3,"x2":3,"y":50,"y2":100},{"x":3.66,"x2":4.34,"y":10,"y2":10},{"x":3.83,"x2":4.17,"y":15.7,"y2":15.7},{"x":3.83,"x2":4.17,"y":3.6,"y2":3.6},{"x":4,"x2":4,"y":3.6,"y2":15.7}],
"brC":[{"x":0.95,"x2":4.01,"y":114.5,"y2":114.5},{"x":0.95,"x2":0.95,"y":105.8,"y2":114.5},{"x":4.01,"x2":4.01,"y":105.8,"y2":114.5}],
"txtC":[{"x":2.43,"y":122,"t":"*","s":34},{"x":-0.11,"y":135,"t":"C","s":52}],
"txtA":[{"x":23,"y":650,"t":"A"}]
},
"resolve":{"scale":{"x":"independent","y":"independent"}},
"layer":[
{"resolve":{"axis":{"x":"independent","y":"independent"}},"layer":[
{"data":{"name":"base"},"mark":{"type":"rect"},"encoding":{
"x":{"field":"x0","type":"quantitative","scale":{"domain":[0,595],"range":[29,624],"nice":false,"zero":false},"axis":{"orient":"bottom","offset":-32,"title":null,"domain":false,"ticks":false,"labelPadding":7,"labelFont":"Noto Sans","labelFontSize":16,"labelColor":"#808080","labelOverlap":false,"labelFlush":false,"values":[21,63,98,128,161,195,230,261,291,322,355,387,415,438,461,485,508,534,561,584],"labelExpr":"['1','2','3','4','5','6','7','8','9','10','11','12','13','14','15','16','17','18','19','X'][indexof([21,63,98,128,161,195,230,261,291,322,355,387,415,438,461,485,508,534,561,584],datum.value)]"}},
"x2":{"field":"x1"},
"y":{"field":"y0","type":"quantitative","scale":{"domain":[0,595],"range":[678,83],"nice":false,"zero":false},"axis":{"orient":"left","offset":-29,"title":null,"domain":false,"ticks":false,"labelPadding":4,"labelFont":"Noto Sans","labelFontSize":16,"labelColor":"#808080","labelOverlap":false,"labelFlush":false,"values":[18,59,95,126,160,192,226,258,288,320,353,385,412,436,458,483,506,531,559,581],"labelExpr":"['1','2','3','4','5','6','7','8','9','10','11','12','13','14','15','16','17','18','19','X'][indexof([18,59,95,126,160,192,226,258,288,320,353,385,412,436,458,483,506,531,559,581],datum.value)]"}},
"y2":{"field":"y1"},
"color":{"field":"v","type":"quantitative","legend":null,"scale":{"domain":[0,2,4,6,8,10,12.5,15,17.5,20,25,30],"range":["#0a3cf5","#0a4ef0","#0f80e8","#12aee0","#1cd0b0","#38e688","#7cf040","#b8e820","#e8c818","#f09010","#ff2000","#a83028"]}}}},
{"data":{"name":"tri"},"mark":{"type":"area","interpolate":"linear"},"encoding":{"x":{"field":"x","type":"quantitative","axis":null},"y":{"field":"y","type":"quantitative","axis":null,"stack":null},"y2":{"field":"y2"},"color":{"field":"v","type":"quantitative","legend":null}}},
{"data":{"name":"mott"},"mark":{"type":"rect"},"encoding":{"x":{"field":"x0","type":"quantitative","axis":null},"x2":{"field":"x1"},"y":{"field":"y0","type":"quantitative","axis":null},"y2":{"field":"y1"},"color":{"field":"v","type":"quantitative","legend":null}}},
{"data":{"name":"cells"},"mark":{"type":"rect"},"encoding":{"x":{"field":"x0","type":"quantitative","axis":null},"x2":{"field":"x1"},"y":{"field":"y0","type":"quantitative","axis":null},"y2":{"field":"y1"},"color":{"field":"v","type":"quantitative","legend":null}}},
{"data":{"name":"vl"},"mark":{"type":"rule","color":"#0a1a6e","strokeWidth":1.2},"encoding":{
"x":{"field":"p","type":"quantitative","axis":{"orient":"top","offset":-83,"title":null,"domain":false,"ticks":false,"labelPadding":6,"labelFont":"Noto Sans","labelFontSize":16,"labelColor":"#808080","labelOverlap":false,"labelFlush":false,"values":[21,63,98,128,161,195,230,261,291,322,355,387,415,438,461,485,508,534,561,584],"labelExpr":"['1','2','3','4','5','6','7','8','9','10','11','12','13','14','15','16','17','18','19','X'][indexof([21,63,98,128,161,195,230,261,291,322,355,387,415,438,461,485,508,534,561,584],datum.value)]"}},
"y":{"field":"lo","type":"quantitative","axis":{"orient":"right","offset":-576,"title":null,"domain":false,"ticks":false,"labelPadding":4,"labelFont":"Noto Sans","labelFontSize":16,"labelColor":"#808080","labelOverlap":false,"labelFlush":false,"values":[18,59,95,126,160,192,226,258,288,320,353,385,412,436,458,483,506,531,559,581],"labelExpr":"['1','2','3','4','5','6','7','8','9','10','11','12','13','14','15','16','17','18','19','X'][indexof([18,59,95,126,160,192,226,258,288,320,353,385,412,436,458,483,506,531,559,581],datum.value)]"}},
"y2":{"field":"hi"}}},
{"data":{"name":"hl"},"mark":{"type":"rule","color":"#0a1a6e","strokeWidth":1.2},"encoding":{"y":{"field":"p","type":"quantitative","axis":null},"x":{"field":"lo","type":"quantitative","axis":null},"x2":{"field":"hi"}}},
{"data":{"name":"diag"},"mark":{"type":"line","color":"white","strokeWidth":3.2},"encoding":{"x":{"field":"x","type":"quantitative","axis":null},"y":{"field":"y","type":"quantitative","axis":null}}},
{"data":{"name":"txtA"},"mark":{"type":"text","font":"Liberation Sans","fontWeight":"bold","fontSize":52,"baseline":"middle","color":"black"},"encoding":{"x":{"field":"x","type":"quantitative","axis":null},"y":{"field":"y","type":"quantitative","axis":null},"text":{"field":"t"}}}
]},
{"data":{"name":"strip"},"mark":{"type":"rect"},"encoding":{"x":{"datum":0,"type":"quantitative","axis":null,"scale":{"domain":[0,1],"range":[650,665],"nice":false,"zero":false}},"x2":{"datum":1},"y":{"field":"y0","type":"quantitative","axis":null,"scale":{"domain":[0,595],"range":[678,83],"nice":false,"zero":false}},"y2":{"field":"y1"},"color":{"field":"v","type":"quantitative","legend":null}}},
{"resolve":{"axis":{"x":"independent","y":"independent"},"scale":{"y":"independent"}},"layer":[
{"data":{"name":"cbarRect"},"mark":{"type":"rect","color":{"x1":0,"y1":1,"x2":0,"y2":0,"gradient":"linear","stops":[{"offset":0,"color":"#0a3cf5"},{"offset":0.2,"color":"#10a8d8"},{"offset":0.4,"color":"#38e688"},{"offset":0.6,"color":"#b0e820"},{"offset":0.8,"color":"#f09010"},{"offset":1,"color":"#ff2000"}]}},"encoding":{"x":{"field":"x0","type":"quantitative","axis":null,"scale":{"domain":[0,1],"range":[746,769],"nice":false,"zero":false}},"x2":{"field":"x1"},"y":{"field":"y0","type":"quantitative","scale":{"domain":[0,25],"range":[678,492],"nice":false,"zero":false},"axis":{"orient":"left","offset":-746,"title":null,"values":[0,5,10,15,20,25],"domain":false,"tickSize":4,"tickColor":"#555","labelFont":"Noto Sans","labelFontSize":10,"labelColor":"#222","labelPadding":2,"labelFlush":false}},"y2":{"field":"y1"}}},
{"data":{"name":"cbarRect"},"mark":{"type":"rule","opacity":0},"encoding":{"y":{"field":"y0","type":"quantitative","scale":{"domain":[0,30],"range":[678,492],"nice":false,"zero":false},"axis":{"orient":"right","offset":-431,"title":null,"values":[0,6,12,18,24,30],"domain":false,"tickSize":4,"tickColor":"#555","labelFont":"Noto Sans","labelFontSize":10,"labelColor":"#222","labelPadding":2,"labelFlush":false}}}},
{"data":{"name":"cbarText"},"mark":{"type":"text","angle":270,"align":"left","baseline":"middle","font":"Noto Sans","color":"#888888"},"encoding":{"x":{"field":"x","type":"quantitative","axis":null},"y":{"field":"y","type":"quantitative","axis":null,"scale":{"domain":[0,25],"range":[678,492],"nice":false,"zero":false}},"text":{"field":"t"},"size":{"field":"s","type":"quantitative","scale":null}}}
]},
{"layer":[
{"data":{"name":"ptsB"},"mark":{"type":"point","filled":true,"opacity":1,"color":"black","size":58},"encoding":{
"x":{"field":"x","type":"quantitative","scale":{"domain":[0.5,4.5],"range":[905,1191],"nice":false,"zero":false},"axis":{"orient":"bottom","offset":-427,"title":null,"values":[1,2,3,4],"labelExpr":"['D2/D2','D2/B6','B6/D2','B6/B6'][datum.value-1]","labelAngle":-45,"labelFont":"Liberation Sans","labelFontWeight":"bold","labelFontSize":14,"labelColor":"black","domainColor":"black","domainWidth":2.5,"tickColor":"black","tickWidth":2.5,"tickSize":6,"labelPadding":6,"labelFlush":false}},
"y":{"field":"y","type":"quantitative","scale":{"domain":[0,110],"range":[283,93],"nice":false,"zero":false},"axis":{"orient":"left","offset":-905,"title":"Percent survival","titleFont":"Liberation Sans","titleFontWeight":"bold","titleFontSize":15.5,"titleColor":"black","titlePadding":7,"values":[0,50,100],"labelFont":"Liberation Sans","labelFontWeight":"bold","labelFontSize":13,"labelColor":"black","domainColor":"black","domainWidth":2.5,"tickColor":"black","tickWidth":2.5,"tickSize":5,"labelPadding":3,"labelFlush":false}},
"shape":{"field":"g","type":"nominal","legend":null,"scale":{"domain":["D2/D2","D2/B6","B6/D2","B6/B6"],"range":["circle","square","triangle-up","triangle-down"]}}}},
{"data":{"name":"segB"},"mark":{"type":"rule","color":"black","strokeWidth":2.5},"encoding":{"x":{"field":"x","type":"quantitative"},"x2":{"field":"x2"},"y":{"field":"y","type":"quantitative"},"y2":{"field":"y2"}}},
{"data":{"name":"brB"},"mark":{"type":"rule","color":"black","strokeWidth":4.5,"strokeCap":"square"},"encoding":{"x":{"field":"x","type":"quantitative"},"x2":{"field":"x2"},"y":{"field":"y","type":"quantitative"},"y2":{"field":"y2"}}},
{"data":{"name":"txtB"},"mark":{"type":"text","font":"Liberation Sans","fontWeight":"bold","baseline":"middle","color":"black"},"encoding":{"x":{"field":"x","type":"quantitative"},"y":{"field":"y","type":"quantitative"},"text":{"field":"t"},"size":{"field":"s","type":"quantitative","scale":null}}}
]},
{"layer":[
{"data":{"name":"ptsC"},"mark":{"type":"point","filled":true,"opacity":1,"color":"black","size":58},"encoding":{
"x":{"field":"x","type":"quantitative","scale":{"domain":[0.5,4.5],"range":[905,1191],"nice":false,"zero":false},"axis":{"orient":"bottom","offset":-82,"title":null,"values":[1,2,3,4],"labelExpr":"['D2/D2','D2/B6','B6/D2','B6/B6'][datum.value-1]","labelAngle":-45,"labelFont":"Liberation Sans","labelFontWeight":"bold","labelFontSize":14,"labelColor":"black","domainColor":"black","domainWidth":2.5,"tickColor":"black","tickWidth":2.5,"tickSize":6,"labelPadding":6,"labelFlush":false}},
"y":{"field":"y","type":"quantitative","scale":{"domain":[0,110],"range":[628,438],"nice":false,"zero":false},"axis":{"orient":"left","offset":-905,"title":"Percent survival","titleFont":"Liberation Sans","titleFontWeight":"bold","titleFontSize":15.5,"titleColor":"black","titlePadding":7,"values":[0,50,100],"labelFont":"Liberation Sans","labelFontWeight":"bold","labelFontSize":13,"labelColor":"black","domainColor":"black","domainWidth":2.5,"tickColor":"black","tickWidth":2.5,"tickSize":5,"labelPadding":3,"labelFlush":false}},
"shape":{"field":"g","type":"nominal","legend":null,"scale":{"domain":["D2/D2","D2/B6","B6/D2","B6/B6"],"range":["circle","square","triangle-up","triangle-down"]}}}},
{"data":{"name":"segC"},"mark":{"type":"rule","color":"black","strokeWidth":2.5},"encoding":{"x":{"field":"x","type":"quantitative"},"x2":{"field":"x2"},"y":{"field":"y","type":"quantitative"},"y2":{"field":"y2"}}},
{"data":{"name":"brC"},"mark":{"type":"rule","color":"black","strokeWidth":4.5,"strokeCap":"square"},"encoding":{"x":{"field":"x","type":"quantitative"},"x2":{"field":"x2"},"y":{"field":"y","type":"quantitative"},"y2":{"field":"y2"}}},
{"data":{"name":"txtC"},"mark":{"type":"text","font":"Liberation Sans","fontWeight":"bold","baseline":"middle","color":"black"},"encoding":{"x":{"field":"x","type":"quantitative"},"y":{"field":"y","type":"quantitative"},"text":{"field":"t"},"size":{"field":"s","type":"quantitative","scale":null}}}
]}
]}
